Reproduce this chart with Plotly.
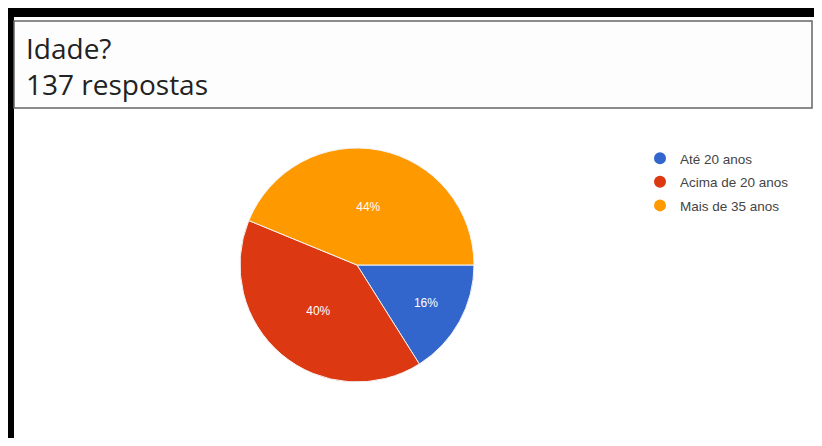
import plotly.graph_objects as go

categories = ["Até 20 anos", "Acima de 20 anos", "Mais de 35 anos"]
counts = [22, 55, 60]
colors = ["#3366CC", "#DC3912", "#FF9900"]
title_line1 = "Idade?"
title_line2 = "137 respostas"

# the page adds an 8px body margin, so the figure is drawn 8px in from the window edge
OFF = 8
W, H = 822 - 2 * OFF, 446 - 2 * OFF

def px(x):
    return (x - OFF) / W

def py(y):
    return 1 - (y - OFF) / H

fig = go.Figure()
fig.add_trace(go.Pie(
    labels=categories, values=counts, sort=False, direction="clockwise", rotation=90,
    marker=dict(colors=colors, line=dict(color="#f4f4f4", width=1)),
    textinfo="percent", texttemplate="%{percent:.0%}", textposition="inside",
    insidetextfont=dict(color="white", size=12, family="Arial"),
    showlegend=False, hoverinfo="label+percent",
    domain=dict(x=[px(236), px(478)], y=[py(382), py(148)]),
))
for i, (cat, col) in enumerate(zip(categories, colors)):
    fig.add_trace(go.Scatter(x=[None], y=[None], mode="markers", name=cat,
                             legendgroup="g%d" % i,
                             marker=dict(color=col, size=12, symbol="circle")))

shapes = [
    dict(type="rect", xref="paper", yref="paper", x0=-0.02, x1=1.02, y0=py(17), y1=1.02,
         fillcolor="black", line=dict(width=0)),
    dict(type="rect", xref="paper", yref="paper", x0=-0.02, x1=px(14), y0=-0.02, y1=1.02,
         fillcolor="black", line=dict(width=0)),
    dict(type="rect", xref="paper", yref="paper", x0=px(14), x1=px(812), y0=py(108), y1=py(21),
         fillcolor="#fdfdfd", line=dict(color="#666", width=1.5)),
]

fig.update_layout(
    width=W, height=H, margin=dict(l=0, r=0, t=0, b=0),
    paper_bgcolor="white", plot_bgcolor="white",
    xaxis=dict(visible=False), yaxis=dict(visible=False),
    shapes=shapes,
    legend=dict(x=px(640), y=py(143), xanchor="left", yanchor="top",
                font=dict(family="Arial", size=13.5, color="#444"),
                itemsizing="constant", tracegroupgap=3, bgcolor="rgba(0,0,0,0)"),
    annotations=[
        dict(text=title_line1, xref="paper", yref="paper", x=px(24), y=py(48), xanchor="left",
             yanchor="middle", showarrow=False, font=dict(family="Open Sans", size=28, color="#222")),
        dict(text=title_line2, xref="paper", yref="paper", x=px(24), y=py(84), xanchor="left",
             yanchor="middle", showarrow=False, font=dict(family="Open Sans", size=28, color="#222")),
    ],
)
fig.write_html("out.html")
